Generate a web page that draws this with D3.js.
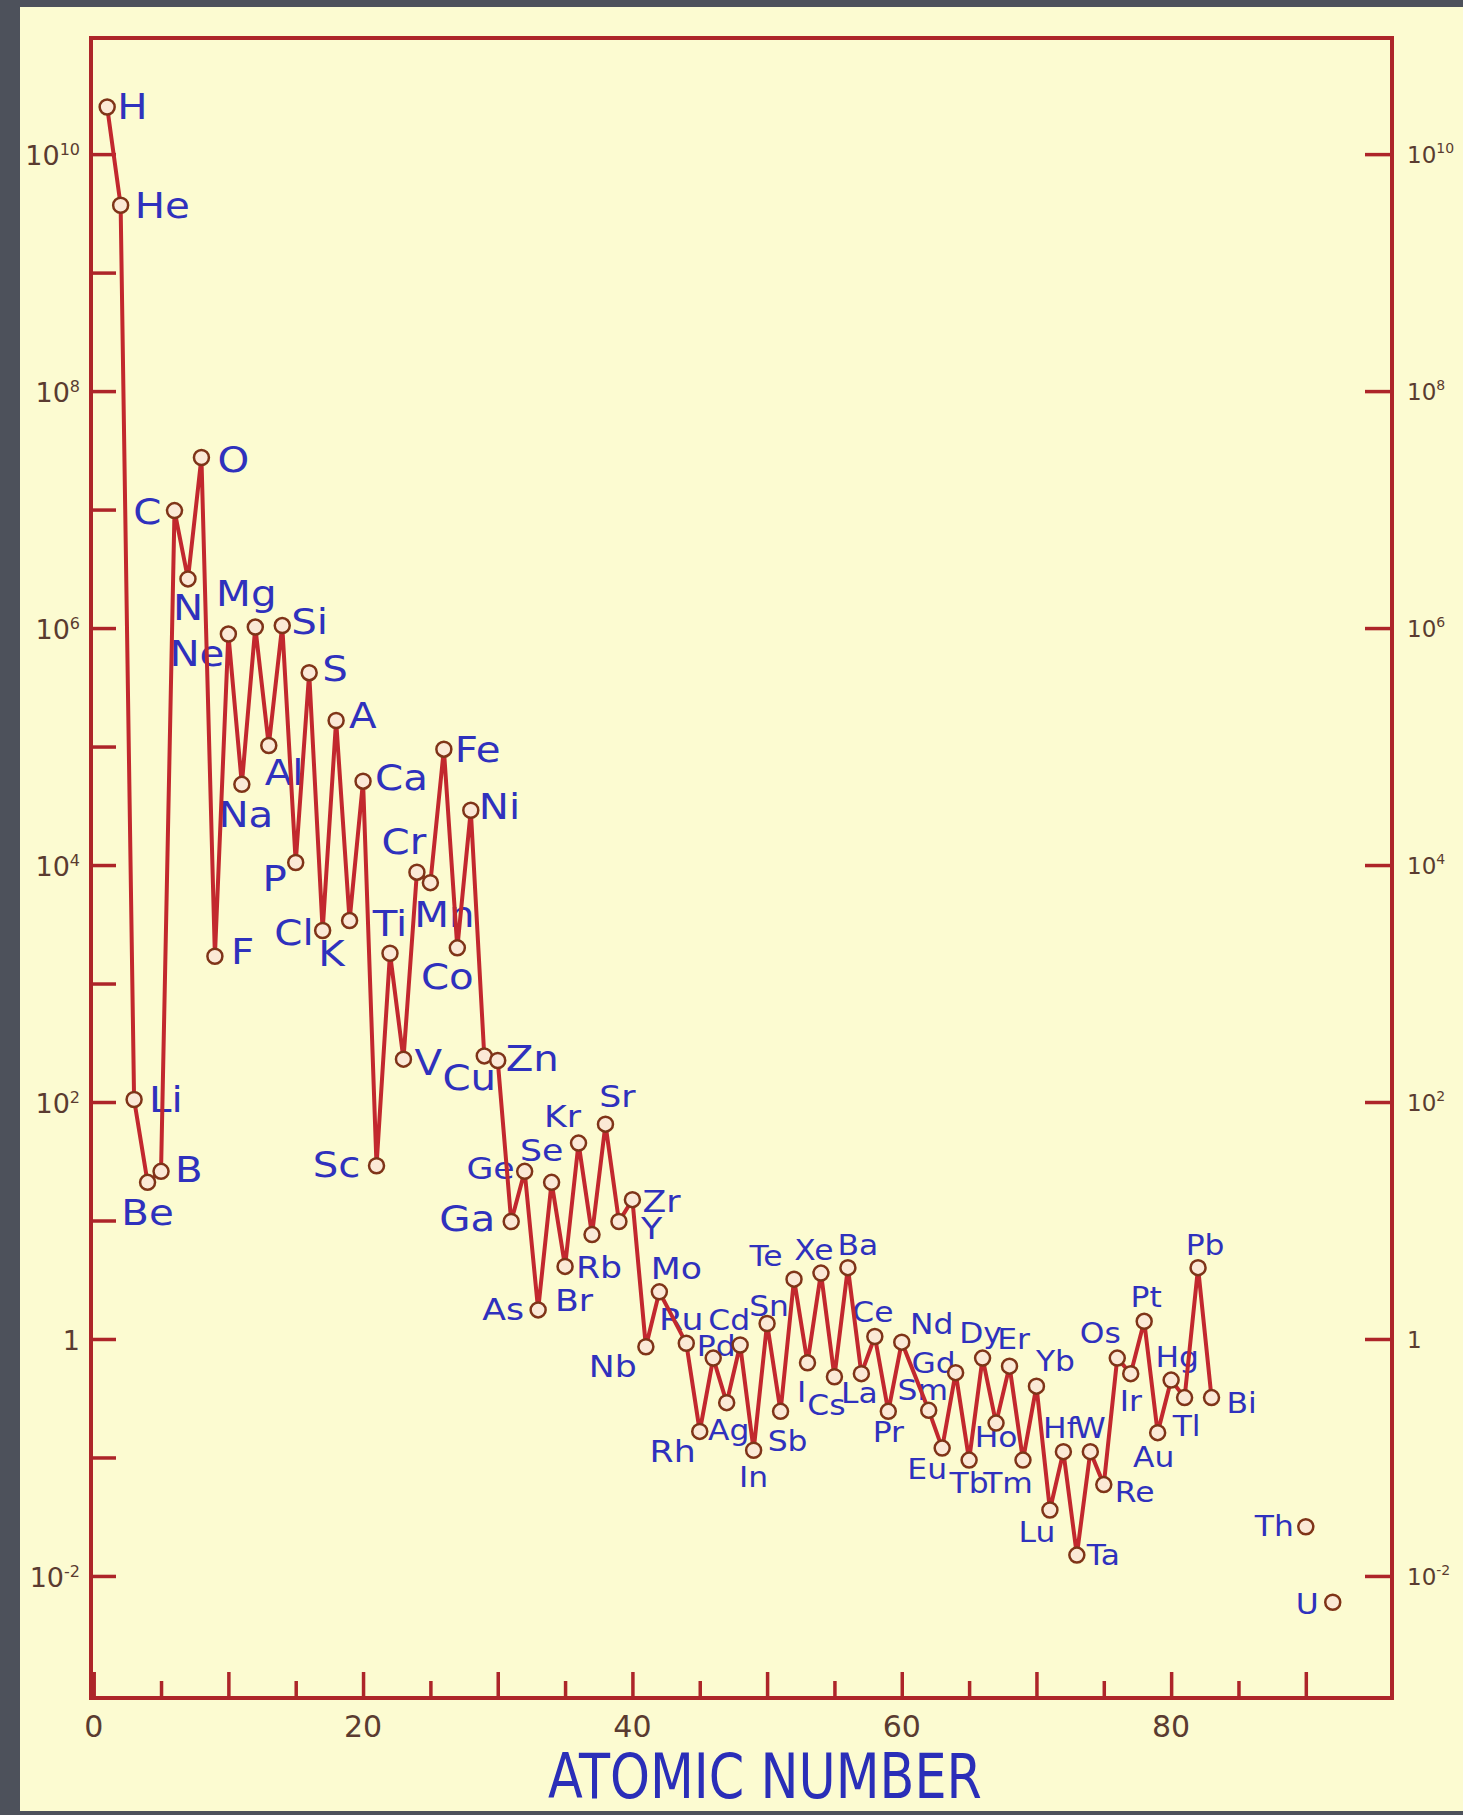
<!DOCTYPE html>
<html>
<head>
<meta charset="utf-8">
<script src="https://cdn.jsdelivr.net/npm/d3@7"></script>
<style>
  body { margin: 0; background: #4d515b; }
  svg { display: block; }
  .elem-label { font-family: "DejaVu Sans", Verdana, sans-serif; fill: #2f31bd; }
  .tick-label { font-family: "DejaVu Sans", sans-serif; fill: #5a3b30; }
  .axis-title { font-family: "DejaVu Sans", sans-serif; fill: #2a2eb8; }
</style>
</head>
<body>
<svg id="chart"></svg>
<script>
// Element symbols, atomic numbers and relative abundances (Si = 10^6)
const symbols = ["H","He","Li","Be","B","C","N","O","F","Ne","Na","Mg","Al","Si","P","S","Cl","A","K","Ca",
  "Sc","Ti","V","Cr","Mn","Fe","Co","Ni","Cu","Zn","Ga","Ge","As","Se","Br","Kr","Rb","Sr","Y","Zr",
  "Nb","Mo","Ru","Rh","Pd","Ag","Cd","In","Sn","Sb","Te","I","Xe","Cs","Ba","La","Ce","Pr","Nd",
  "Sm","Eu","Gd","Tb","Dy","Ho","Er","Tm","Yb","Lu","Hf","Ta","W","Re","Os","Ir","Pt","Au","Hg","Tl",
  "Pb","Bi","Th","U"];
const atomicNumbers = [1,2,3,4,5,6,7,8,9,10,11,12,13,14,15,16,17,18,19,20,
  21,22,23,24,25,26,27,28,29,30,31,32,33,34,35,36,37,38,39,40,
  41,42,44,45,46,47,48,49,50,51,52,53,54,55,56,57,58,59,60,
  62,63,64,65,66,67,68,69,70,71,72,73,74,75,76,77,78,79,80,81,
  82,83,90,92];
const abundances = [2.5e10,3.7e9,105,21,26,9.8e6,2.6e6,2.75e7,1700,8.9e5,4.8e4,1.02e6,1.02e5,1.05e6,1.05e4,4.2e5,2800,1.66e5,3400,5.1e4,
  29,1800,230,8700,7100,9.5e4,2000,2.9e4,245,224,9.8,26,1.76,21,4.1,45,7.6,65,9.8,15,
  0.86,2.5,0.92,0.166,0.69,0.29,0.89,0.115,1.35,0.245,3.2,0.63,3.6,0.48,4.0,0.51,1.05,0.245,0.94,
  0.25,0.12,0.52,0.095,0.69,0.195,0.59,0.095,0.40,0.036,0.112,0.015,0.112,0.059,0.69,0.51,1.41,0.162,0.45,0.32,
  4.0,0.32,0.026,0.006];
// elements drawn without the connecting line
const looseElements = ["Th","U"];

// axis ticks
const yTickExponents = [10, 8, 6, 4, 2, 0, -2];
const yMinorExponents = [10, 9, 8, 7, 6, 5, 4, 3, 2, 1, 0, -1, -2];
const xTickLabels = [0, 20, 40, 60, 80];
const xMajorTicks = [0, 10, 20, 30, 40, 50, 60, 70, 80, 90];
const xMinorTicks = [5, 15, 25, 35, 45, 55, 65, 75, 85];

// label placement next to each marker: [anchor, dx, dy(baseline)]
const labelPlacement = {
  H:["start",10,12], He:["start",14,13], Li:["start",15,12], Be:["middle",0,43], B:["start",14,11],
  C:["end",-13,13], N:["middle",0,41], O:["start",16,14], F:["start",16,8], Ne:["end",-4,32],
  Na:["middle",4,43], Mg:["middle",-9,-21], Al:["start",-4,39], Si:["start",9,8], P:["end",-9,28],
  S:["start",13,8], Cl:["end",-9,14], A:["start",13,8], K:["middle",-18,45], Ca:["start",12,9],
  Sc:["end",-16,11], Ti:["middle",0,-17], V:["start",11,16], Cr:["middle",-13,-18], Mn:["middle",14,44],
  Fe:["start",11,13], Co:["middle",-10,41], Ni:["start",8,9], Cu:["middle",-15,34], Zn:["start",8,10],
  Ga:["end",-16,9], Ge:["end",-10,8], As:["end",-14,10], Se:["middle",-10,-21], Br:["middle",9,45],
  Kr:["middle",-16,-16], Rb:["middle",7,43], Sr:["middle",12,-17], Y:["start",22,17], Zr:["start",10,12],
  Nb:["end",-9,30], Mo:["middle",17,-13], Ru:["middle",-5,-13], Rh:["end",-4,31], Pd:["middle",3,-2],
  Ag:["middle",2,37], Cd:["middle",-11,-15], In:["middle",0,37], Sn:["middle",2,-8], Sb:["middle",7,40],
  Te:["middle",-28,-13], I:["middle",-6,39], Xe:["middle",-7,-13], Cs:["middle",-8,38], Ba:["middle",10,-13],
  La:["middle",-2,29], Ce:["middle",-2,-14], Pr:["middle",0,31], Nd:["middle",30,-8], Sm:["middle",-6,-10],
  Eu:["middle",-15,31], Gd:["middle",-22,0], Tb:["middle",0,33], Dy:["middle",-2,-15], Ho:["middle",0,24],
  Er:["middle",4,-17], Tm:["middle",-15,33], Yb:["middle",19,-15], Lu:["middle",-13,32], Hf:["middle",-3,-14],
  Ta:["start",10,10], W:["middle",0,-14], Re:["start",11,17], Os:["middle",-17,-15], Ir:["middle",0,37],
  Pt:["middle",2,-14], Au:["middle",-4,34], Hg:["middle",6,-13], Tl:["middle",2,38], Pb:["middle",7,-13],
  Bi:["start",15,15], Th:["end",-12,9], U:["end",-14,12]
};

const width = 1463;
const height = 1815;
const frame = { left: 91, right: 1392, top: 38, bottom: 1698 };
const lineColor = "#c2282e";
const axisColor = "#ad2529";

const data = symbols.map((s, i) => ({ symbol: s, z: atomicNumbers[i], value: abundances[i] }));

const svg = d3.select("#chart")
  .attr("width", width)
  .attr("height", height);

// Background panel
svg.append("rect")
  .attr("x", 20).attr("y", 7)
  .attr("width", width - 20).attr("height", 1804)
  .attr("fill", "#fcfbd1");

// Scales
const xScale = d3.scaleLinear()
  .domain([-0.2, 96.4])
  .range([frame.left, frame.right]);

const yScale = d3.scaleLog()
  .domain([Math.pow(10, -3.03), Math.pow(10, 10.98)])
  .range([frame.bottom, frame.top]);

// Ticks (inward) on every side
const styleAxis = g => {
  g.select(".domain").remove();
  g.selectAll(".tick line").attr("stroke", axisColor).attr("stroke-width", 3.5);
  g.selectAll(".tick text").remove();
};

svg.append("g")
  .attr("transform", `translate(${frame.left},0)`)
  .call(d3.axisRight(yScale).tickValues(yMinorExponents.map(e => Math.pow(10, e))).tickSize(25))
  .call(styleAxis);

svg.append("g")
  .attr("transform", `translate(${frame.right},0)`)
  .call(d3.axisLeft(yScale).tickValues(yTickExponents.map(e => Math.pow(10, e))).tickSize(27))
  .call(styleAxis);

svg.append("g")
  .attr("transform", `translate(0,${frame.bottom})`)
  .call(d3.axisTop(xScale).tickValues(xMajorTicks).tickSize(26))
  .call(styleAxis);

svg.append("g")
  .attr("transform", `translate(0,${frame.bottom})`)
  .call(d3.axisTop(xScale).tickValues(xMinorTicks).tickSize(17))
  .call(styleAxis);

// Frame
svg.append("rect")
  .attr("x", frame.left).attr("y", frame.top)
  .attr("width", frame.right - frame.left)
  .attr("height", frame.bottom - frame.top)
  .attr("fill", "none")
  .attr("stroke", axisColor)
  .attr("stroke-width", 4);

// Y tick labels, left and right
const addPowerLabel = (sel, exp, mainSize, supSize) => {
  if (exp === 0) {
    sel.append("tspan").attr("font-size", mainSize).text("1");
  } else {
    sel.append("tspan").attr("font-size", mainSize).text("10");
    sel.append("tspan").attr("font-size", supSize).attr("dy", -10).text(exp);
  }
};

yTickExponents.forEach(e => {
  const y = yScale(Math.pow(10, e));
  const left = svg.append("text")
    .attr("class", "tick-label")
    .attr("x", frame.left - 11)
    .attr("y", y + 11)
    .attr("text-anchor", "end");
  addPowerLabel(left, e, 27, 16);

  const right = svg.append("text")
    .attr("class", "tick-label")
    .attr("x", frame.right + 15)
    .attr("y", y + 9)
    .attr("text-anchor", "start");
  addPowerLabel(right, e, 23, 14);
});

// X tick labels
svg.selectAll(".x-label")
  .data(xTickLabels)
  .join("text")
  .attr("class", "tick-label")
  .attr("x", d => xScale(d))
  .attr("y", 1737)
  .attr("text-anchor", "middle")
  .attr("font-size", 30)
  .attr("fill", "#7a2c24")
  .text(d => d);

// Axis title
svg.append("text")
  .attr("class", "axis-title")
  .attr("transform", "translate(765,1798) scale(0.82,1)")
  .attr("text-anchor", "middle")
  .attr("font-size", 62)
  .text("ATOMIC NUMBER");

// Element labels
const labelSize = z => (z <= 31 ? 36 : z <= 45 ? 31 : 28);

svg.selectAll(".elem-label")
  .data(data)
  .join("text")
  .attr("class", "elem-label")
  .attr("font-size", d => labelSize(d.z))
  .attr("text-anchor", d => labelPlacement[d.symbol][0])
  .attr("transform", d => {
    const p = labelPlacement[d.symbol];
    return `translate(${xScale(d.z) + p[1]},${yScale(d.value) + p[2]}) scale(1.12,1)`;
  })
  .text(d => d.symbol);

// Connecting line
const line = d3.line()
  .x(d => xScale(d.z))
  .y(d => yScale(d.value));

svg.append("path")
  .datum(data.filter(d => !looseElements.includes(d.symbol)))
  .attr("d", line)
  .attr("fill", "none")
  .attr("stroke", lineColor)
  .attr("stroke-width", 4)
  .attr("stroke-linejoin", "miter");

// Markers
svg.selectAll(".marker")
  .data(data)
  .join("circle")
  .attr("class", "marker")
  .attr("cx", d => xScale(d.z))
  .attr("cy", d => yScale(d.value))
  .attr("r", 7.5)
  .attr("fill", "#fbe9d6")
  .attr("stroke", "#7f3418")
  .attr("stroke-width", 2.5);
</script>
</body>
</html>
